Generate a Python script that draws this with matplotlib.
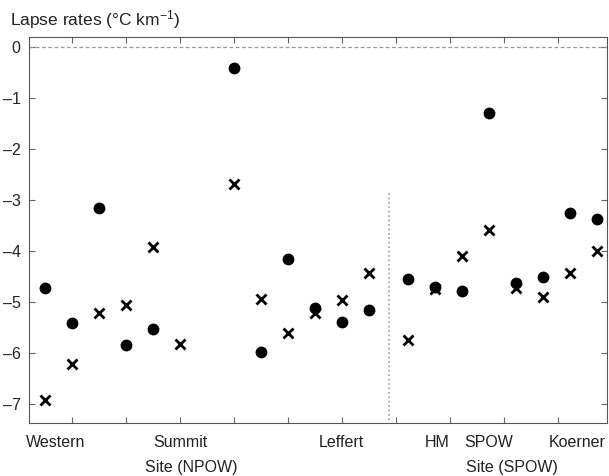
#Lapse rate scatter, NPOW and SPOW sites

import numpy as np
import matplotlib
matplotlib.use("Agg")
import matplotlib.pyplot as plt

plt.rcParams['font.family'] = ['Liberation Sans', 'DejaVu Sans']
plt.rcParams['mathtext.fontset'] = 'custom'
plt.rcParams['mathtext.rm'] = 'Liberation Sans'
plt.rcParams['mathtext.it'] = 'Liberation Sans:italic'

#data (deg C per km), two estimates per position
x_npow = [0.5, 1.0, 1.5, 2.0, 2.5, 3.0, 4.0, 4.5, 5.0, 5.5, 6.0, 6.5]
dots_npow = [-4.74, -5.41, -3.16, -5.85, -5.54, np.nan, -0.41, -5.99, -4.16, -5.12, -5.40, -5.17]
cross_npow = [-6.93, -6.22, -5.23, -5.06, -3.93, -5.84, -2.70, -4.95, -5.62, -5.23, -4.97, -4.43]

x_spow = [7.22, 7.72, 8.22, 8.72, 9.22, 9.72, 10.22, 10.72]
dots_spow = [-4.56, -4.72, -4.80, -1.31, -4.63, -4.51, -3.27, -3.38]
cross_spow = [-5.76, -4.76, -4.10, -3.59, -4.73, -4.90, -4.44, -4.00]

site_names = ["Western", "Summit", "Leffert", "HM", "SPOW", "Koerner"]
site_x = [0.70, 3.0, 5.98, 7.76, 8.72, 10.36]
yticks = [-7, -6, -5, -4, -3, -2, -1, 0]

fig = plt.figure(figsize=(6.09, 4.76), dpi=100)
ax = fig.add_axes([0.0476, 0.1113, 0.9491, 0.811])

x = x_npow + x_spow
ax.plot(x, dots_npow + dots_spow, 'o', color='black', ms=8.5, mew=0)
ax.plot(x, cross_npow + cross_spow, 'x', color='black', ms=6.5, mew=2)

ax.axhline(0, color='#999999', ls=(0, (3, 2)), lw=0.9)
ax.plot([6.87, 6.87], [-7.5, -2.87], color='#a0a0a0', ls=':', lw=1.2)

ax.set_xlim(0.204, 10.907)
ax.set_ylim(-7.38, 0.19)
ax.set_xticks(np.arange(1, 11))
ax.set_xticklabels([])
ax.set_yticks(yticks)
ax.set_yticklabels([str(v).replace('-', '\u2013') for v in yticks])
ax.tick_params(direction='in', top=True, right=True, length=4, color='#666666',
               labelsize=11.5, pad=6, labelcolor='#222222')
for s in ax.spines.values():
    s.set_color('#555555')

trans = matplotlib.transforms.blended_transform_factory(ax.transData, fig.transFigure)
for name, xs in zip(site_names, site_x):
    ax.text(xs, 0.0714, name, transform=trans, ha='center', va='center',
            fontsize=11.5, color='#222222')
ax.text(3.2, 0.017, "Site (NPOW)", transform=trans, ha='center', va='center',
        fontsize=11.5, color='#222222')
ax.text(9.15, 0.017, "Site (SPOW)", transform=trans, ha='center', va='center',
        fontsize=11.5, color='#222222')

fig.text(0.016, 0.958, "Lapse rates (°C km$^{-1}$)", ha='left', va='center',
         fontsize=12.5, color='#222222')

fig.savefig("out.png", dpi=100)
